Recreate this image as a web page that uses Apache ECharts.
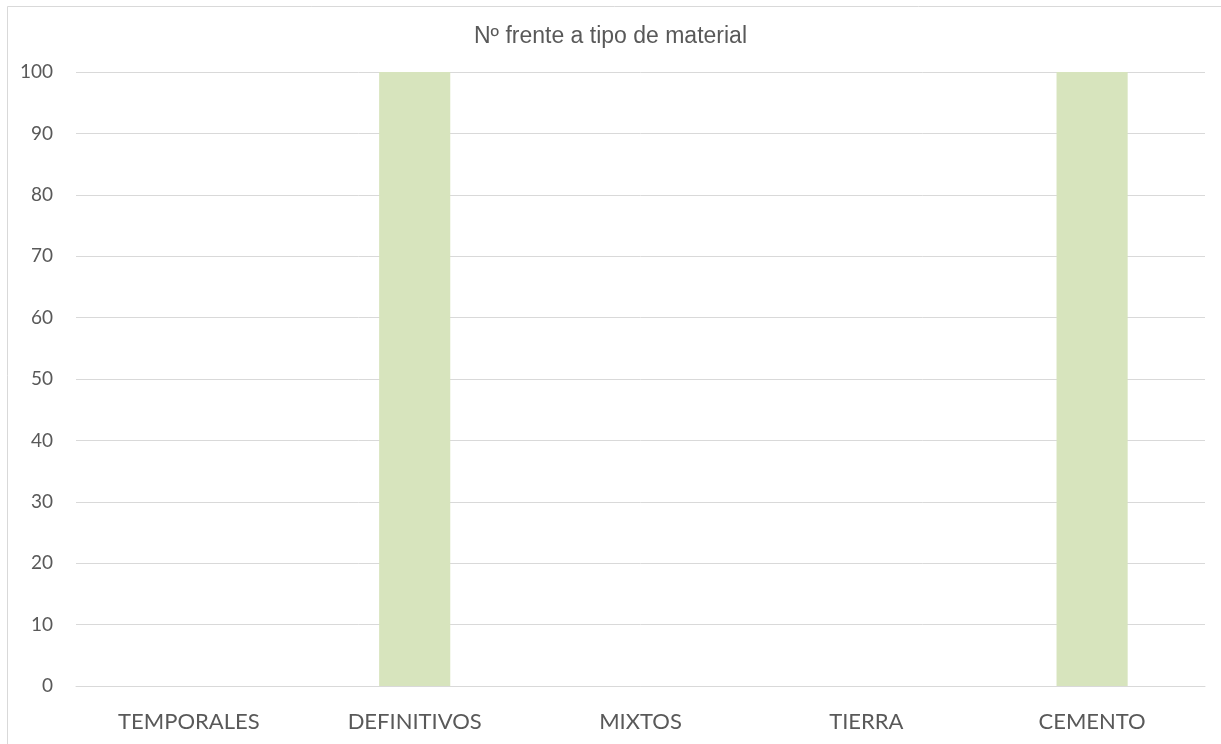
<!DOCTYPE html>
<html>
<head>
<meta charset="utf-8">
<script src="https://cdn.jsdelivr.net/npm/echarts@6/dist/echarts.min.js"></script>
<style>
  html, body { margin: 0; padding: 0; background: #fff; }
  #chart { width: 1221px; height: 744px; }
</style>
</head>
<body>
<div id="chart"></div>
<script>
const categories = ['TEMPORALES', 'DEFINITIVOS', 'MIXTOS', 'TIERRA', 'CEMENTO']
const values = [0, 100, 0, 0, 100]
const chartTitle = 'Nº frente a tipo de material'

const chart = echarts.init(document.getElementById('chart'))
const option = {
  animation: false,
  backgroundColor: '#fff',
  title: {
    text: chartTitle,
    left: 'center',
    top: 20,
    textStyle: {
      fontFamily: 'Liberation Sans, Arial',
      fontSize: 23,
      fontWeight: 'normal',
      color: '#595959'
    }
  },
  graphic: [{
    type: 'rect',
    shape: { x: 7.5, y: 6.5, width: 1230, height: 760 },
    style: { fill: 'none', stroke: '#d9d9d9', lineWidth: 1 },
    silent: true
  }],
  grid: {
    left: 76,
    right: 16,
    top: 72,
    bottom: 58
  },
  xAxis: {
    type: 'category',
    data: categories,
    axisTick: { show: false },
    axisLine: { lineStyle: { color: '#d9d9d9', width: 1 } },
    axisLabel: {
      margin: 25,
      fontFamily: 'Lato, Open Sans',
      fontSize: 22,
      color: '#595959'
    }
  },
  yAxis: {
    type: 'value',
    min: 0,
    max: 100,
    interval: 10,
    axisLine: { show: false },
    axisTick: { show: false },
    splitLine: { lineStyle: { color: '#d9d9d9', width: 1 } },
    axisLabel: {
      margin: 23,
      fontFamily: 'Lato, Open Sans',
      fontSize: 19,
      color: '#595959'
    }
  },
  series: [{
    type: 'bar',
    data: values,
    barWidth: '31.5%',
    itemStyle: { color: '#d7e4bd' }
  }]
}
chart.setOption(option)
</script>
</body>
</html>
